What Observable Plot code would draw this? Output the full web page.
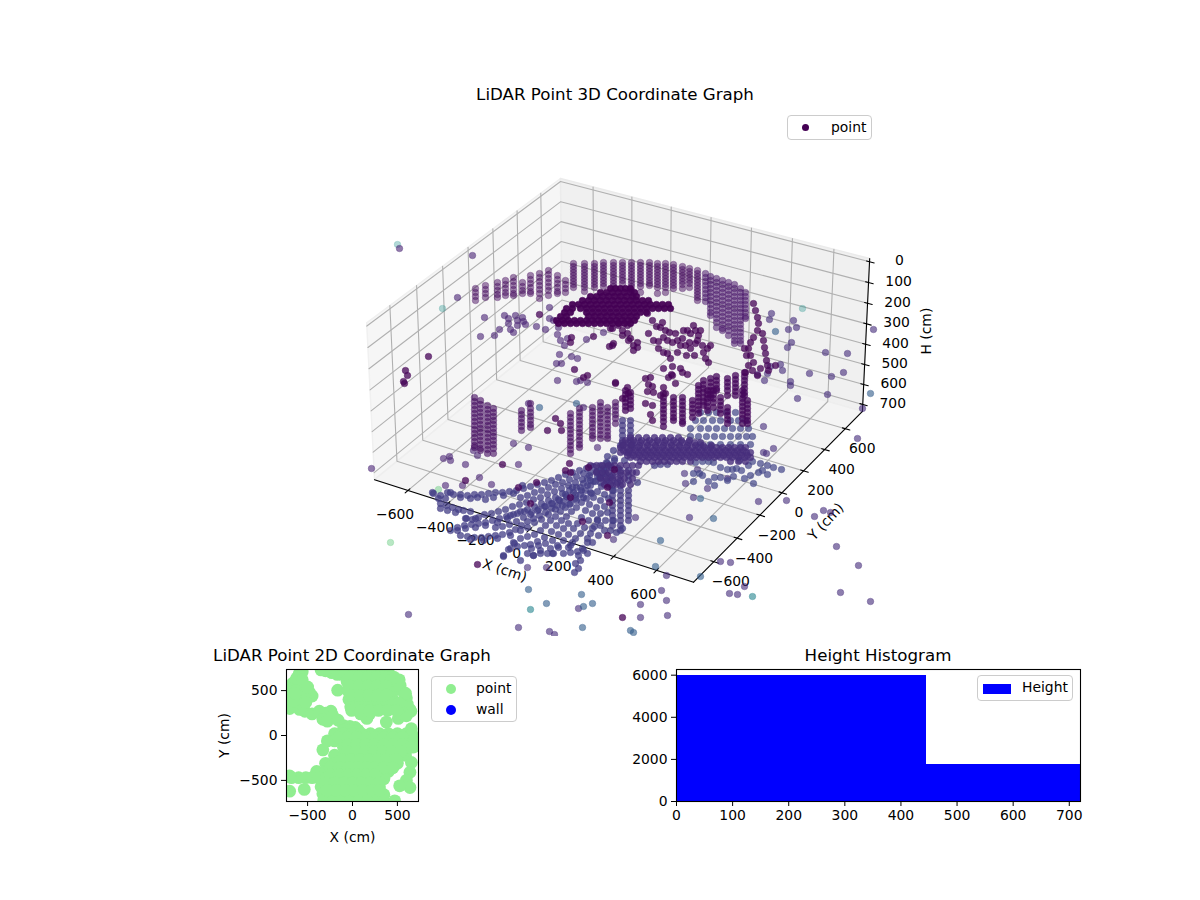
<!DOCTYPE html>
<html><head><meta charset="utf-8">
<script src="https://cdn.jsdelivr.net/npm/d3@7"></script>
<script src="https://cdn.jsdelivr.net/npm/@observablehq/plot@0.6"></script>
<style>
html,body{margin:0;padding:0;background:#fff}
#page{position:relative;width:1200px;height:900px;overflow:hidden;font-family:"DejaVu Sans",sans-serif;color:#000}
#page svg{position:absolute;overflow:hidden;background:transparent;font-family:"DejaVu Sans",sans-serif}
.title{position:absolute;font-size:16.67px;white-space:nowrap;transform:translateX(-50%)}
.legend{position:absolute;box-sizing:border-box;border:1px solid #ccc;border-radius:4px;background:rgba(255,255,255,.8);font-size:13.9px}
.legend .row{position:absolute;white-space:nowrap}
.legend i{position:absolute;display:block}
</style></head><body><div id="page"></div>
<script>
// ---- view-plane readings of the 3D cloud: [viewX, viewY...] columns and [viewX, viewY] points ----
const ringColumns=[
[475,288,292,296,300],[485,285,289,293,297],[497,282,286,290,294,297],[505,280,284,288,292,295],[513,277,281,285,289,293,295],
[522,282,286,290,293],[530,275,279,283,287,291,293],[539,273,277,281,285,289,293,298],[548,270,274,278,282,286,290,295],[557,275,279,283,287,291,293],[565,280,284,288,292],
[573,263,266,269,272,275,278,281,284,287],[584,263,266,269,272,275,278,281,284,287,291],[594,263,266,269,272,275,278,281,284,287],[603,262,265,268,271,274,277,280,283,286],[613,262,265,268,271,274,277,280,283,286],
[622,262,265,268,271,274,277,280,283],[631,262,265,268,271,274,277,280,283,286,290],[640,262,265,268,271,274,277,280,283,286,292],[649,262,265,268,271,274,277,280,283,285],[657,263,266,269,272,275,278,281,284,287,293],
[665,263,266,269,272,275,278,281,284,287,292],[673,264,267,270,273,276,279,282,285,288],[682,266,269,272,275,278,281,284,288],[689,268,271,274,277,280,283,287],[697,270,273,276,279,282,285,288,291,294,297,300]];
const arcColumns=[
[705,273,277,281,285,289,293,297,301],[710,276,280,284,288,292,296,300,304,308,312,315],[716,278,282,286,290,294,298,302,306,310,314,318,322,327],
[722,280,284,288,292,296,300,304,308,312,316,320,324,328,330],[728,282,286,290,294,298,302,306,310,314,318,322,326,330,335],
[734,284,288,292,296,300,304,308,312,316,320,324,328,332,336,340,343],[740,288,292,296,300,304,308,312,316,320,324,328,332,336,340,343],[745,292,296,300,304,308,312,316,318]];
const leftBlockColumns=[
[474,397,401,405,409,413,417,421,425,429,433,437,441,445,447],[480,400,404,408,412,416,420,424,428,432,436,440,444,448,450],
[487,405,409,413,417,421,425,429,433,437,441,445,449,453],[493,408,412,416,420,424,428,432,436,440,444,448,453],
[521,410,414,418,422,426,430],[530,403,408,412,416,420,424,427],[570,413,417,421,425,429,433,437,441,445,449,453],[579,408,412,416,420,424,428,432,436,440,444,447],
[592,407,411,415,419,423,427,431,435,438],[600,402,406,410,414,418,422,426,430,434,438],[607,407,411,415,419,423,427,431,435,438],[615,402,406,410,414,418,423]];
const lowerDarkColumns=[
[663,393,397,401,405,409,413,417,421,426],[673,397,401,405,409,413,417,420],[682,397,401,405,409,413,417,421,423],[692,400,404,408,412,417],[698,385,389,393,397,401,405,409,413],
[703,380,384,388,392,397,401,405],[707,390,394,398,402,406,410],[710,378,382,386,390,394,397],[713,390,394,398,402,407],[716,376,380,384,388,390],[720,397,401,405,409,413],
[727,378,382,386,390,395,407,411,415,419,423],[735,375,379,383,387,391,395],[742,390,394,398,402,406,410,414,418,423],[744,372,376,380,384,388,392,395],[747,400,404,408,412,416,420,423],
[625,390,394,398,402,406,410],[630,392,396,400,404,408]];
const hubColumns=[
[612,475,480,485,490,495,500,505,510,515,520,525],[620,470,475,480,485,490,495,500,505,510,515,520,525,530],[628,470,475,480,490,495,500,505,510,515,520],
[622,420,425,430,435,440,445],[630,420,425,430,435,440,445],[600,470,476,482],[606,462,468,474,480]];
const blobRows=[
[288,610,615,620,625,630],[292,600,606,612,618,624,630,634],[296,590,596,602,608,614,620,626,632,636],
[300,582,588,594,600,606,612,618,624,630,636,642,648],[304,572,578,584,590,596,602,608,614,620,626,632,638,644,650,656,662,668],
[308,566,572,580,586,592,598,604,610,616,622,628,634,640,646,652,658,664,670],[312,564,570,586,592,598,604,610,616,622,628,634,640,646],
[316,560,566,588,594,600,606,612,618,624,630,636],[320,556,562,568,574,580,586,592,598,604,610,616,622,628,634],[323,558,564,570,576,582,588,594,600,606,612,618,624,630]];
const bandRows=[
[437,630,638,646,654,662,670,678],[442,622,628,634,640,646,652,658,664,670,676,682,688,694,700],
[447,620,626,632,638,644,650,656,662,668,674,680,686,692,698,704,710,716,722,728,734,740,745],
[452,620,626,632,638,644,650,656,662,668,674,680,686,692,698,704,710,716,722,728,734,740,746,750],
[457,630,636,642,648,654,660,666,672,678,684,690,696,702,708,714,720,726,732,738,744,750],
[461,640,646,652,658,664,670,676,682,690,730,738,745],
[440,625,633,641,649,657,665,673,681,689],[445,623,631,639,647,655,663,671,679,687,695,703,711],[450,623,629,635,641,647,653,659,665,671,677,683,689,695,701,707,713,719,725,731,737,743],[455,627,633,639,645,651,657,663,669,675,681,687,693,699,705,711,717,723,729,735,741,747],
[465,590,596,602,608,614,620,626,632,638],[472,596,602,608,614,620,626,632,636],[478,600,606,612,618,624,632],[484,604,610,616,622,630]];
const backClusterRows=[
[412,700,708,716,726,735],[420,695,703,712,720,730,738,745],[428,690,700,708,716,724,732,740,748],[436,690,698,706,714,722,730,738,746,752],[444,700,710,720,730,740,750]];
const fanRays=[
[433,493],[440,495],[447,492],[453,494],[460,494],[467,495],[474,494],[481,494],[488,493],[495,492],[502,492],[509,491],[516,490],[523,488],[530,486],[537,484],[544,482],[551,480],[558,477],[565,474],[572,472],[579,470],[586,468],[593,466],[600,465],[607,463],[614,460],
[440,503],[446,505],[452,507],[458,509],[463,510],[470,511],[466,518],[472,519],[478,517],[484,514],[491,513],[498,511],[505,509],[512,506],[519,504],[526,502],[533,499],[540,497],[547,494],[554,491],[561,488],[568,485],[575,482],[582,479],[589,475],[596,471],[603,468],[610,465],
[450,530],[457,527],[464,525],[471,524],[478,523],[485,522],[492,520],[499,518],[506,516],[513,514],[520,511],[527,509],[534,506],[541,503],[548,500],[555,497],[562,493],[569,490],[576,487],[583,483],[590,480],[597,476],[604,471],[611,467],
[460,535],[467,536],[474,537],[481,537],[488,536],[495,535],[502,534],[509,532],[515,529],[521,525],[527,521],[533,518],[539,515],[545,512],[551,508],[557,505],[563,501],[569,498],[575,494],[581,490],[587,485],[593,481],[599,477],[605,473],
[503,555],[508,549],[514,543],[520,538],[527,536],[534,534],[540,530],[545,525],[550,520],[555,516],[560,511],[565,507],[570,503],[575,498],[580,494],[585,490],[590,485],[595,481],[600,477],
[503,556],[513,542],[520,560],[527,553],[533,555],[540,550],[550,548],[557,545],[552,553],
[533,555],[540,553],[547,553],[553,553],[558,547],[563,540],[568,534],[573,528],[577,523],[581,517],[585,510],[589,504],[593,497],[597,491],[601,486],[606,481],[610,477],
[563,553],[570,552],[577,551],[583,550],[587,542],[590,533],[594,526],[597,519],[600,513],[604,506],[608,498],[613,490],[617,482],
[574,572],[578,568],[575,563],[580,560],[578,555],[582,548],[587,538],[592,528],[597,520],[568,547],[572,542],
[607,456],[613,450],[620,445],[614,458],[618,468],[624,460],[628,452],[632,444],[660,464],[654,465],[667,464],[637,482],
[432,492],[438,498],[445,498],[450,492],[460,497],[470,498],[477,497],[485,499],[493,497],[503,495],[513,493],[522,485],
[440,508],[447,510],[455,512],[465,518],[475,518],[457,530],[465,528],[475,527],[485,525],[497,522],[507,518],[470,539],[483,540],[497,538],[510,535],
[520,497],[527,495],[534,492],[541,490],[548,487],[555,484],[562,482],[569,479],[576,476],[583,473],[590,472],[597,471],
[510,515],[517,513],[524,511],[531,512],[538,509],[545,506],[552,503],[559,500],[566,496],[573,492],[580,487],[587,478],
[495,527],[502,526],[509,524],[516,521],[523,517],[530,514],[537,510],[544,506],[551,503],[558,499],[565,494],[572,487],
[520,530],[527,527],[534,522],[541,519],[548,514],[555,509],[562,505],[569,504],[576,500],[583,497],[590,492],
[530,544],[537,541],[544,537],[551,531],[556,525],[561,520],[566,516],[571,511],[576,507],[581,502],[586,498],[591,493],
[510,548],[517,546],[524,545],[531,548],[538,545],[545,543],[552,540],[558,534],[563,528],[568,523],
[570,545],[575,538],[580,533],[584,527],[588,520],[592,513],[596,507],[600,500],[604,494],[608,486],
[600,525],[605,520],[607,512],[604,530],[598,535],[592,542],[587,553],[610,530],[616,532],[622,528],[613,520]];
const lowerScatter=[[695,462],[702,461],[708,461],[713,462],[693,473],[699,473],[693,481],[702,475],[708,481],[714,485],[714,477],[720,477],[727,480],[720,467],[727,469],[732,469],[736,468],[741,470],[733,476],[744,478],[750,475],[758,472],[739,460],[752,461],[760,463],[767,465],[773,467],[781,469],[748,465],[762,470],[767,474],[753,483]];
const midPurple=[[484,317],[499,329],[494,335],[480,336],[536,326],[545,329],[549,307],[549,318],[504,315],[508,318],[508,323],[510,329],[513,332],[515,315],[517,320],[517,325],[522,317],[523,321],[525,324],[457,297],[472,255],[399,248],[557,334],[560,340],[564,345],[567,338],[586,339],[603,332],[559,354],[571,356],[577,358],[556,363],[561,363],[557,380],[576,381],[580,380],[587,382],[558,327],[553,320],
[513,443],[528,447],[518,464],[477,455],[473,450],[465,464],[445,485],[491,484],[479,477],[528,403],[583,407],[597,447],[371,468],[449,456],[443,458],[450,460],[462,485]];
const darkPoints=[[539,314],[428,356],[405,370],[407,375],[403,381],[404,383],[571,337],[570,342],[593,336],[610,328],[609,346],[613,343],[574,369],[587,375],[583,377],[615,382],[502,464],[465,480],[536,482],[569,463],[565,470],[570,472],[555,418],[547,430],[560,423],[561,430],
[647,313],[652,320],[653,340],[656,326],[660,327],[663,337],[665,330],[669,332],[675,333],[677,340],[682,338],[687,330],[690,333],[685,345],[690,348],[695,343],[698,335],[697,340],[707,348],[710,345],[703,352],[705,358],[708,362],[658,348],[663,352],[667,353],[670,358],[663,368],[672,366],[680,368],[682,372],[687,374],[671,374],[645,378],[650,377],[648,384],[652,386],[647,391],[653,392],[663,387],[665,393],[675,383],[668,377],[672,375],[615,383],[627,387],[628,393],[622,398],[612,328],[622,335],[627,325],[627,333],[630,338],[633,345],[637,347],[612,345],[618,325],
[753,303],[755,310],[757,317],[758,323],[757,330],[753,337],[750,342],[748,348],[750,355],[753,362],[762,333],[763,340],[764,347],[765,353],[766,360],[767,365],[645,403],[652,405],[650,414],[652,420],[660,395],
[530,503],[607,535],[582,521],[570,497],[609,502],[588,467],[614,469],[607,487],[518,487],[477,564],[622,617],
[662,322],[667,340],[672,342],[680,345],[683,330],[693,325],[695,330],[689,342],[700,330],[702,345],[694,355],[686,355],[677,352],[658,341],[648,333],[622,330],[628,340],[633,350],[637,342],[744,348],[746,355],[748,365],[745,372],[752,370],[757,375],[760,368],[768,370],[775,365]];
const rightOutliers=[[771,313],[769,319],[793,320],[788,329],[796,327],[791,342],[787,347],[825,352],[847,353],[873,329],[809,373],[831,376],[843,372],[780,364],[782,370],[770,366],[767,373],[764,380],[757,374],[790,381],[790,385],[797,398],[827,394],[763,426],[773,448],[763,452],[766,453],[758,501],[786,500],[814,516],[823,510],[830,512],[836,546],[857,438],[862,408],[689,517],[693,497],[684,473],[685,483],[707,488],[697,469],[727,478],[635,517],[613,539],[408,614],[518,627],[549,631],[554,634],[578,608],[640,604],[640,617],[661,590],[666,600],[667,615],[666,575],[720,561],[730,562],[729,593],[737,594],[744,586],[858,565],[840,592],[870,601],[527,567],[546,567]];
const bluePoints=[[528,589],[546,603],[581,594],[583,606],[592,603],[582,627],[630,630],[633,632],[655,566],[660,540],[700,576],[713,518],[539,407],[576,403],[775,331],[870,393],[700,498]];
const tealPoints=[[530,609],[752,596]];
const paleTealPoints=[[397,244],[442,308],[802,308]];
const palePoints=[[390,542],[438,489]];
// ---- 2D scatter (X, Y in cm) ----
const scatterX=[-593,-560,-668,-640,-600,-700,-640,-560,-480,-450,-700,-650,-600,-530,-700,-650,-700,-590,-530,-450,-370,-300,-240,-330,-280,-220,-160,-100,-30,30,
-350,-300,-230,-170,-120,-165,
-80,20,120,220,320,400,-60,40,140,240,340,-50,50,150,250,350,440,-40,60,160,260,360,450,-20,80,180,280,380,470,90,190,160,377,510,560,620,650,530,520,570,600,610,590,640,600,
-100,-20,60,655,-200,-100,0,100,200,300,400,500,600,660,
-280,-200,-100,0,100,200,300,400,500,600,690,-330,-100,0,100,200,300,400,500,600,680,
-200,-100,0,100,200,300,400,500,590,-300,-200,-100,0,100,200,300,400,500,-400,-300,-200,-100,0,100,200,300,400,
-680,-600,-520,-450,-380,-300,-200,-100,0,100,200,300,350,-350,-250,-150,-50,50,150,250,300,-330,-230,-130,-30,70,170,270,300,-320,-220,-120,-20,80,180,280,340,350,470,
-700,-537,-700,656,640,600,640,525,
-600,-520,-660,-30,70,170,270,370,460,520,540,480,420,-620,-560,-640,-500,
-30,70,170,270,370,-20,80,180,280,380,460,520,-10,90,190,290,390,490,-150,-50,50,150,250,350,450,550,-50,50,150,250,350,450,550,640,-60,40,140,240,340,440,540,-120,-20,80,180,280,380,480,-250,-150,-50,50,150,250,350,450,-250,-150,-50,50,150,250,-300,-200,-100,0,100,200,300,-280,-180,-80,20,120,220,300];
const scatterY=[690,710,580,600,560,520,500,500,480,440,440,430,420,430,360,330,300,290,270,240,270,250,270,180,160,220,170,110,100,90,
730,720,700,680,680,505,
700,700,700,700,700,700,600,600,600,600,600,500,500,500,500,500,480,400,400,400,400,400,400,320,320,320,320,320,300,240,240,190,149,190,240,260,270,560,620,480,420,350,470,290,220,
60,60,60,75,20,20,20,20,20,20,20,20,20,20,
-60,-60,-60,-60,-60,-60,-60,-60,-60,-60,-60,-160,-130,-130,-130,-130,-130,-130,-130,-130,-130,
-220,-220,-220,-220,-220,-220,-220,-220,-220,-310,-310,-310,-310,-310,-310,-310,-310,-310,-400,-400,-400,-400,-400,-400,-400,-400,-400,
-470,-470,-470,-470,-470,-480,-480,-480,-480,-480,-480,-480,-480,-570,-570,-570,-570,-570,-570,-570,-570,-650,-650,-650,-650,-650,-650,-650,-650,-720,-720,-720,-720,-720,-720,-720,-720,-660,-727,
-620,-600,-450,-300,-410,-500,-580,-560,
370,370,380,650,650,650,650,650,650,300,350,560,610,640,620,470,540,
550,550,550,550,550,450,450,450,450,450,360,360,280,280,280,280,280,280,-20,-20,-20,-20,-20,-20,-20,-20,-100,-100,-100,-100,-100,-100,-100,-130,-180,-180,-180,-180,-180,-180,-180,-270,-270,-270,-270,-270,-270,-270,-360,-360,-360,-360,-360,-360,-360,-360,-440,-440,-440,-440,-440,-440,-530,-530,-530,-530,-530,-530,-530,-610,-610,-610,-610,-610,-610,-610];
// ---- histogram ----
const histEdges=[0,445,720];
const histCounts=[5970,1750];
// ---- axis ticks ----
const xyTicks=[-600,-400,-200,0,200,400,600];
const hTicks=[0,100,200,300,400,500,600,700];
const tick2d=[-500,0,500];
const histXTicks=[0,100,200,300,400,500,600,700];
const histYTicks=[0,2000,4000,6000];
const boxXY=770, hLow=-15, hHigh=735;

const minus=d=>String(d).replace("-","\u2212");
const page=document.getElementById("page");

// Matplotlib style view: elevation 30, azimuth -60, distance 10
function raw(X,Y,H){
  const ar=[4,4,1.97],n=Math.hypot(4,4,3),s=1.8294640721620434*25/24/n;
  const b=[(X+740)/1480*ar[0]*s,(Y+740)/1480*ar[1]*s,(720-H)/720*ar[2]*s];
  const c=ar.map(a=>a*s/2),e=30*Math.PI/180,a=-60*Math.PI/180,d=10;
  const w=[Math.cos(e)*Math.cos(a),Math.cos(e)*Math.sin(a),Math.sin(e)];
  const eye=c.map((v,i)=>v+d*w[i]);
  const u=[-w[1],w[0],0],ul=Math.hypot(...u);u[0]/=ul;u[1]/=ul;
  const v=[w[1]*u[2]-w[2]*u[1],w[2]*u[0]-w[0]*u[2],w[0]*u[1]-w[1]*u[0]];
  const p=b.map((q,i)=>q-eye[i]);
  const dot=(m,o)=>m[0]*o[0]+m[1]*o[1]+m[2]*o[2];
  const z=-dot(p,w);
  return [dot(p,u)/z,dot(p,v)/z];
}
const L=raw(-boxXY,-boxXY,hLow),R=raw(boxXY,boxXY,hLow),T=raw(-boxXY,boxXY,hLow);
const k=(868-365)/(R[0]-L[0]);
function view(X,Y,H){const r=raw(X,Y,H);return {x:560+(r[0]-T[0])*k,y:178-(r[1]-T[1])*k};}

const poly=(pts,id)=>pts.map(p=>({...view(...p),id}));
const paneLeft=poly([[-boxXY,-boxXY,hLow],[-boxXY,boxXY,hLow],[-boxXY,boxXY,hHigh],[-boxXY,-boxXY,hHigh],[-boxXY,-boxXY,hLow]],"l");
const paneBack=poly([[-boxXY,boxXY,hLow],[boxXY,boxXY,hLow],[boxXY,boxXY,hHigh],[-boxXY,boxXY,hHigh],[-boxXY,boxXY,hLow]],"b");
const paneFloor=poly([[-boxXY,-boxXY,hHigh],[boxXY,-boxXY,hHigh],[boxXY,boxXY,hHigh],[-boxXY,boxXY,hHigh],[-boxXY,-boxXY,hHigh]],"f");
const grid=[
 ...xyTicks.flatMap(t=>poly([[t,-boxXY,hHigh],[t,boxXY,hHigh],[t,boxXY,hLow]],"x"+t)),
 ...xyTicks.flatMap(t=>poly([[boxXY,t,hHigh],[-boxXY,t,hHigh],[-boxXY,t,hLow]],"y"+t)),
 ...hTicks.flatMap(t=>poly([[-boxXY,-boxXY,t],[-boxXY,boxXY,t],[boxXY,boxXY,t]],"h"+t))];
const axesLines=[
 ...poly([[-boxXY,-boxXY,hHigh],[boxXY,-boxXY,hHigh]],"ax"),
 ...poly([[boxXY,-boxXY,hHigh],[boxXY,boxXY,hHigh]],"ay"),
 ...poly([[boxXY,boxXY,hLow],[boxXY,boxXY,hHigh]],"ah")];
const tickLines=[
 ...xyTicks.flatMap(t=>poly([[t,-boxXY-22,hHigh],[t,-boxXY+14,hHigh]],"tx"+t)),
 ...xyTicks.flatMap(t=>poly([[boxXY+22,t,hHigh],[boxXY-14,t,hHigh]],"ty"+t)),
 ...hTicks.flatMap(t=>poly([[boxXY+22,boxXY,t],[boxXY-14,boxXY,t]],"th"+t))];
const colRows=a=>a.flatMap(([x,...ys])=>ys.map(y=>[x,y]));
const rowRows=a=>a.flatMap(([y,...xs])=>xs.map(x=>[x,y]));
const cloud=(pts,v,op)=>Plot.dot(pts.map(p=>({x:p[0],y:p[1],v})),{x:"x",y:"y",r:3.3,fill:"v",stroke:"v",strokeWidth:.5,fillOpacity:op,strokeOpacity:op});

const p3=Plot.plot({width:1200,height:636,marginTop:0,marginBottom:0,marginLeft:0,marginRight:0,
 x:{domain:[0,1200],range:[0,1200],axis:null},y:{domain:[0,636],range:[0,636],axis:null},
 color:{type:"linear",scheme:"viridis",domain:[0,1]},
 style:{background:"transparent"},
 marks:[
  Plot.line(paneLeft,{x:"x",y:"y",fill:"#f6f6f6",stroke:"#f0f0f0"}),
  Plot.line(paneBack,{x:"x",y:"y",fill:"#f0f0f0",stroke:"#ebebeb"}),
  Plot.line(paneFloor,{x:"x",y:"y",fill:"#f4f4f4",stroke:"#eeeeee"}),
  Plot.line(grid,{x:"x",y:"y",z:"id",stroke:"#b0b0b0",strokeWidth:1.1}),
  Plot.line(axesLines,{x:"x",y:"y",z:"id",stroke:"#000",strokeWidth:1.1}),
  Plot.line(tickLines,{x:"x",y:"y",z:"id",stroke:"#000",strokeWidth:1.1}),
  Plot.text(xyTicks,{x:t=>view(t,-boxXY,hHigh).x,y:t=>view(t,-boxXY,hHigh).y,text:minus,dx:-13,dy:24,fontSize:13.9,fill:"#000"}),
  Plot.text(xyTicks,{x:t=>view(boxXY,t,hHigh).x,y:t=>view(boxXY,t,hHigh).y,text:minus,dx:17,dy:20,fontSize:13.9,fill:"#000"}),
  Plot.text(hTicks,{x:t=>view(boxXY,boxXY,t).x,y:t=>view(boxXY,boxXY,t).y,text:minus,dx:30,dy:-1,fontSize:13.9,fill:"#000"}),
  Plot.text(["X (cm)"],{x:()=>view(0,-boxXY,hHigh).x,y:()=>view(0,-boxXY,hHigh).y,text:d=>d,dx:-25,dy:41,rotate:18,fontSize:13.9,fill:"#000"}),
  Plot.text(["Y (cm)"],{x:()=>view(boxXY,0,hHigh).x,y:()=>view(boxXY,0,hHigh).y,text:d=>d,dx:44,dy:29,rotate:-47,fontSize:13.9,fill:"#000"}),
  Plot.text(["H (cm)"],{x:()=>view(boxXY,boxXY,360).x,y:()=>view(boxXY,boxXY,360).y,text:d=>d,dx:61,dy:-5,rotate:-90,fontSize:13.9,fill:"#000"}),
  cloud(paleTealPoints,.5,.35),
  cloud(palePoints,.72,.4),
  cloud(colRows(ringColumns),.03,.5),
  cloud(midPurple,.09,.6),
  cloud(colRows(arcColumns),.06,.55),
  cloud(rightOutliers,.13,.62),
  cloud(bluePoints,.3,.62),
  cloud(tealPoints,.45,.6),
  cloud(rowRows(backClusterRows),.2,.7),
  cloud(lowerScatter,.2,.7),
  cloud(colRows(leftBlockColumns),.04,.62),
  cloud(colRows(hubColumns),.17,.75),
  cloud(fanRays,.18,.75),
  cloud(colRows(lowerDarkColumns),.02,.75),
  cloud(rowRows(bandRows),.13,.8),
  cloud(darkPoints,.01,.75),
  cloud(rowRows(blobRows),0,.95)
 ]});
p3.style.left="0";p3.style.top="0";page.append(p3);

const axisOpts={tickSize:5,tickPadding:4,fontSize:13.9,color:"#000",labelArrow:"none"};
const p2=Plot.plot({width:240,height:190,marginLeft:76,marginTop:9,marginRight:32,marginBottom:49,
 x:{domain:[-735,735]},y:{domain:[-735,735]},style:{background:"transparent",fontSize:"13.9px",color:"#000"},
 marks:[
  Plot.dot(scatterX.map((x,i)=>({x,y:scatterY[i]})),{x:"x",y:"y",r:6.4,fill:"#90ee90",clip:true}),
  Plot.axisX({ticks:tick2d,tickFormat:minus,label:"X (cm)",labelAnchor:"center",labelOffset:40,...axisOpts}),
  Plot.axisY({ticks:tick2d,tickFormat:minus,label:"Y (cm)",labelAnchor:"center",labelOffset:67,...axisOpts}),
  Plot.frame({stroke:"#000",strokeWidth:1.1})
 ]});
p2.style.left="210px";p2.style.top="660px";page.append(p2);

const histRows=histCounts.map((c,i)=>({x1:histEdges[i],x2:histEdges[i+1],y:c}));
const p4=Plot.plot({width:480,height:180,marginLeft:66,marginTop:9,marginRight:10,marginBottom:39,
 x:{domain:[0,720]},y:{domain:[0,6270]},style:{background:"transparent",fontSize:"13.9px",color:"#000"},
 marks:[
  Plot.rectY(histRows,{x1:"x1",x2:"x2",y:"y",fill:"#0000ff",inset:0,shapeRendering:"crispEdges"}),
  Plot.axisX({ticks:histXTicks,tickFormat:d=>String(d),label:null,...axisOpts}),
  Plot.axisY({ticks:histYTicks,tickFormat:d=>String(d),label:null,...axisOpts}),
  Plot.frame({stroke:"#000",strokeWidth:1.1})
 ]});
p4.style.left="610px";p4.style.top="660px";page.append(p4);

function title(t,cx,top){const d=document.createElement("div");d.className="title";d.textContent=t;d.style.left=cx+"px";d.style.top=top+"px";page.append(d);}
title("LiDAR Point 3D Coordinate Graph",615,85);
title("LiDAR Point 2D Coordinate Graph",352,646);
title("Height Histogram",878,646);

function legend(left,top,w,h,rows){
 const d=document.createElement("div");d.className="legend";
 Object.assign(d.style,{left:left+"px",top:top+"px",width:w+"px",height:h+"px"});
 rows.forEach(r=>{
  const m=document.createElement("i");
  Object.assign(m.style,{left:r.mx+"px",top:r.my+"px",width:r.mw+"px",height:r.mh+"px",background:r.c,borderRadius:r.round?"50%":"0"});
  const t=document.createElement("span");t.className="row";t.textContent=r.t;
  Object.assign(t.style,{left:r.tx+"px",top:r.ty+"px"});
  d.append(m,t);
 });
 page.append(d);
}
legend(787,115,85,25,[{t:"point",c:"#440154",round:true,mx:14,my:8,mw:7,mh:7,tx:43,ty:3}]);
legend(431,676,86,46,[{t:"point",c:"#90ee90",round:true,mx:14,my:7,mw:10,mh:10,tx:44,ty:3},{t:"wall",c:"#0000ff",round:true,mx:14,my:28,mw:10,mh:10,tx:44,ty:24}]);
legend(977,675,96,26,[{t:"Height",c:"#0000ff",mx:5,my:8,mw:28,mh:10,tx:44,ty:3}]);
</script></body></html>
